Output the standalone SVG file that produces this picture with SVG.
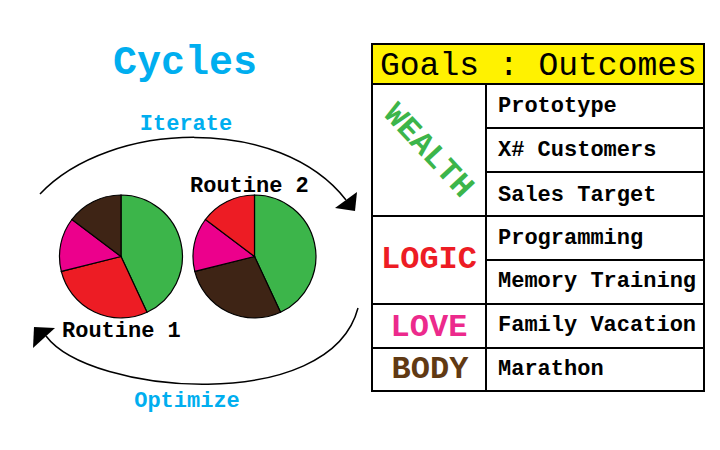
<svg xmlns="http://www.w3.org/2000/svg" width="720" height="450" viewBox="0 0 720 450">
<style>
.mono{font-family:"Liberation Mono","Courier New",monospace;font-weight:bold}
.cyan{fill:#00AEEF;font-size:22px}
.lbl{fill:#000;font-size:22px}
.row{fill:#000;font-size:22px}
.goal{font-size:32px}
.slice{stroke:#000;stroke-width:1.2}
.grid{stroke:#000;stroke-width:2;fill:none}
.arc{fill:none;stroke:#000;stroke-width:1.5}
.g{fill:#3CB54A}.r{fill:#ED1C24}.m{fill:#EC008C}.b{fill:#3E2415}
</style>
<rect width="720" height="450" fill="#fff"/>
<g id="title"><text class="mono" x="185" y="74" text-anchor="middle" font-size="40" fill="#00AEEF">Cycles</text></g>
<g id="connectors">
<path class="arc" d="M40,194 C110,120 280,115 346,200"/>
<polygon points="335,208 357,192 355,211" fill="#000"/>
<path class="arc" d="M358,308 C330,415 90,395 46,336"/>
<polygon points="34,327 55,328 33,348" fill="#000"/>
<text class="mono cyan" x="186" y="130" text-anchor="middle">Iterate</text>
<text class="mono cyan" x="187" y="407" text-anchor="middle">Optimize</text>
</g>
<g id="routine1">
<path class="slice g" d="M121,256.5 L121,195 A61.5,61.5 0 0 1 147,312.2 Z"/>
<path class="slice r" d="M121,256.5 L147,312.2 A61.5,61.5 0 0 1 61.3,271.4 Z"/>
<path class="slice m" d="M121,256.5 L61.3,271.4 A61.5,61.5 0 0 1 71.9,219.5 Z"/>
<path class="slice b" d="M121,256.5 L71.9,219.5 A61.5,61.5 0 0 1 121,195 Z"/>
<text class="mono lbl" x="62" y="337">Routine 1</text>
</g>
<g id="routine2">
<path class="slice g" d="M254.5,256.5 L254.5,195 A61.5,61.5 0 0 1 280.5,312.2 Z"/>
<path class="slice b" d="M254.5,256.5 L280.5,312.2 A61.5,61.5 0 0 1 194.8,271.4 Z"/>
<path class="slice m" d="M254.5,256.5 L194.8,271.4 A61.5,61.5 0 0 1 205.4,219.5 Z"/>
<path class="slice r" d="M254.5,256.5 L205.4,219.5 A61.5,61.5 0 0 1 254.5,195 Z"/>
<text class="mono lbl" x="190" y="192">Routine 2</text>
</g>
<g id="table">
<rect x="372" y="44" width="332" height="40" fill="#FFF200"/>
<text x="380" y="75" font-family="Liberation Mono, Courier New, monospace" font-size="33" fill="#000">Goals : Outcomes</text>
<rect class="grid" x="372" y="44" width="332" height="347"/>
<path class="grid" d="M372,84 H704 M486,84 V391 M486,128 H704 M486,172 H704 M372,216 H704 M486,260 H704 M372,304 H704 M372,348 H704"/>
</g>
<g id="wealth">
<text class="mono goal" transform="translate(429,150) rotate(47)" x="0" y="10" text-anchor="middle" fill="#3CB54A">WEALTH</text>
<text class="mono row" x="498" y="112">Prototype</text>
<text class="mono row" x="498" y="156">X# Customers</text>
<text class="mono row" x="498" y="201">Sales Target</text>
</g>
<g id="logic">
<text class="mono goal" x="429" y="268" text-anchor="middle" fill="#ED1C24">LOGIC</text>
<text class="mono row" x="498" y="244">Programming</text>
<text class="mono row" x="498" y="287">Memory Training</text>
</g>
<g id="love">
<text class="mono goal" x="429" y="336" text-anchor="middle" fill="#EC2A8C">LOVE</text>
<text class="mono row" x="498" y="331">Family Vacation</text>
</g>
<g id="body">
<text class="mono goal" x="430" y="378" text-anchor="middle" fill="#603913">BODY</text>
<text class="mono row" x="498" y="375">Marathon</text>
</g>
</svg>
